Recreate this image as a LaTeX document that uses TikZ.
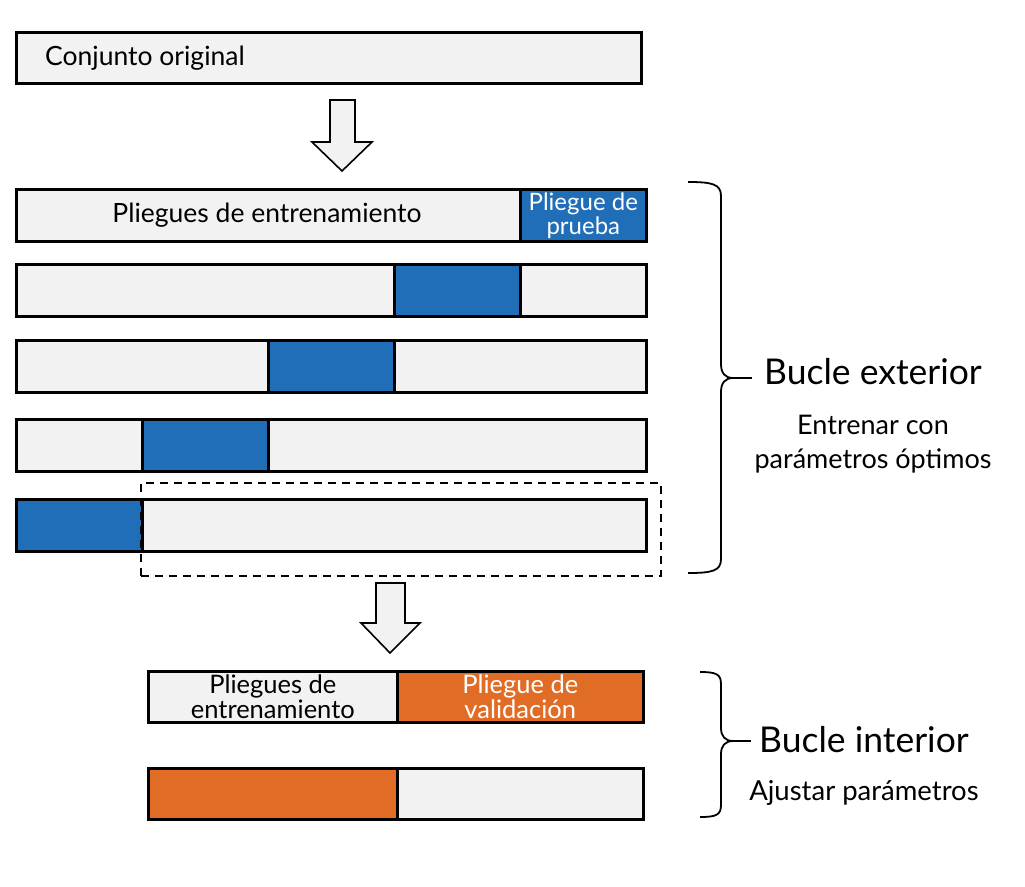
\documentclass[tikz,border=0pt]{standalone}
\usepackage{fontspec}
\setmainfont{Lato}
\usetikzlibrary{positioning,calc}
\definecolor{fondo}{HTML}{F2F2F2}
\definecolor{azul}{HTML}{1F6EB7}
\definecolor{naranja}{HTML}{E06C25}
\tikzset{
  seg/.style={draw, line width=2.6pt, fill=fondo, minimum height=52, inner sep=0pt, anchor=north west},
  prueba/.style={seg, fill=azul},
  valid/.style={seg, fill=naranja},
  flecha/.style={draw, line width=1.6pt, fill=fondo, line join=miter},
  llave/.style={draw, line width=1.8pt},
  txt/.style={font=\fontsize{26.5}{27}\selectfont, inner sep=0pt},
  txtw/.style={font=\fontsize{24}{24}\selectfont, inner sep=0pt, text=white, align=center},
  grande/.style={font=\fontsize{35.5}{36}\selectfont, inner sep=0pt},
}
\begin{document}
\begin{tikzpicture}[x=1pt,y=-1pt]
\useasboundingbox (0,0) rectangle (1025,886);
% conjunto original
\node[seg, minimum width=625, minimum height=51] (orig) at (15,31) {};
\node[txt, anchor=west] (origtxt) at ([xshift=30pt]orig.west) {Conjunto original};
\draw[flecha] (330,100) -- (355,100) -- (355,142) -- (372,142) -- (342,171) -- (312,142) -- (330,142) -- cycle;
% bucle exterior
\foreach \i/\y in {0/188,1/263,2/339,3/418,4/498}{
  \node[seg, minimum width=630] (row\i) at (15,\y) {};
  \node[prueba, minimum width=126] (fold\i) at ({15+(4-\i)*126},\y) {};
}
\node[txt] (trntxt) at ($(row0.west)!.5!(fold0.west)$) {Pliegues de entrenamiento};
\node[txtw] (tsttxt) at (fold0.center) {Pliegue de\\prueba};
\node[draw, dashed, dash pattern=on 8pt off 6pt, line width=1.8pt, minimum width=520, minimum height=93, inner sep=0pt, anchor=north west] (sel) at (140,482) {};
\draw[flecha] (376,583) -- (405,583) -- (405,623) -- (420,623) -- (390,653) -- (361,623) -- (376,623) -- cycle;
% bucle interior
\node[seg, minimum width=249, minimum height=51] (itrn) at (147,670) {};
\node[valid, minimum width=246, minimum height=51] (ival) at (396,670) {};
\node[valid, minimum width=249, minimum height=51] (ival2) at (147,767) {};
\node[seg, minimum width=246, minimum height=51] (itrn2) at (396,767) {};
\node[txt, align=center, font=\fontsize{25.5}{22}\selectfont] (itrntxt) at (itrn.center) {Pliegues de\\entrenamiento};
\node[txtw, font=\fontsize{25.5}{22}\selectfont] (ivaltxt) at (ival.center) {Pliegue de\\validación};
% llaves
\draw[llave] (688,182) .. controls (712,182) and (721,184) .. (721,196) -- (721,364) .. controls (721,373) and (725,378) .. (733,378) .. controls (725,378) and (721,383) .. (721,392) -- (721,559) .. controls (721,571) and (712,573) .. (688,573);
\coordinate (ext) at (752,378);
\draw[llave] (733,378) -- (ext);
\node[grande, anchor=west] (bext) at ([xshift=12pt,yshift=6pt]ext) {Bucle exterior};
\node[txt, align=center, font=\fontsize{27}{34}\selectfont, below=30pt of bext] (bexttxt) {Entrenar con\\parámetros óptimos};
\draw[llave] (700,672) .. controls (716,672) and (721,674) .. (721,684) -- (721,728) .. controls (721,736) and (725,741) .. (733,741) .. controls (725,741) and (721,746) .. (721,754) -- (721,805) .. controls (721,815) and (716,817) .. (700,817);
\coordinate (int) at (751,741);
\draw[llave] (733,741) -- (int);
\node[grande, anchor=west] (bint) at ([xshift=8pt,yshift=1pt]int) {Bucle interior};
\node[txt, font=\fontsize{27.5}{28}\selectfont, below=27pt of bint] (binttxt) {Ajustar parámetros};
\end{tikzpicture}
\end{document}
